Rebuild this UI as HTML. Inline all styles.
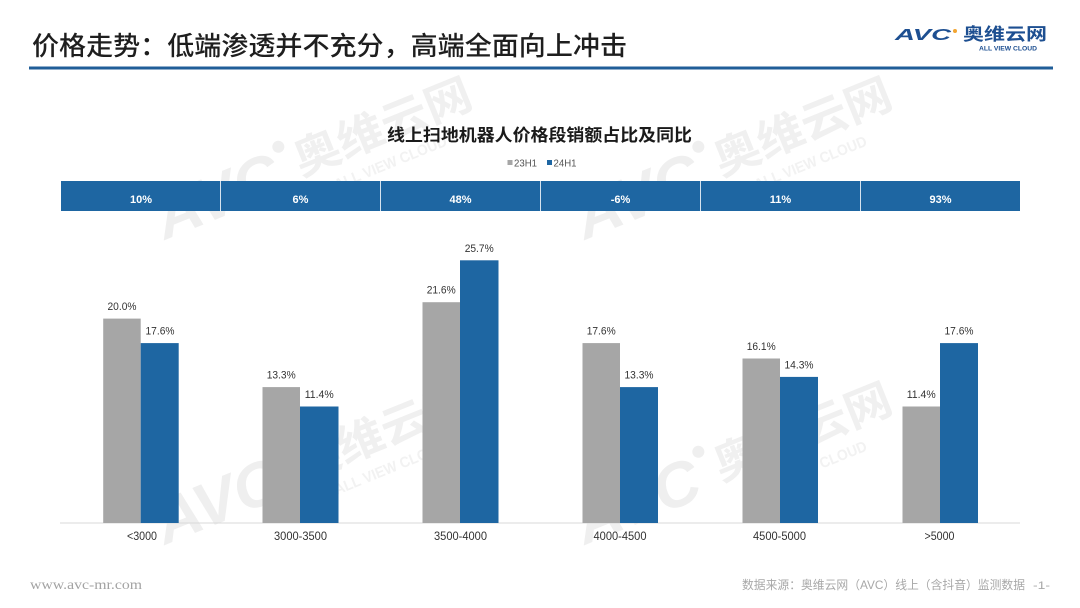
<!DOCTYPE html>
<html>
<head>
<meta charset="utf-8">
<style>
  html,body{margin:0;padding:0;background:#fff;}
  body{width:1080px;height:608px;overflow:hidden;}
  svg{display:block;}
  .cjk{font-family:"Liberation Sans","Noto Sans CJK SC",sans-serif;}
  .lat{font-family:"Liberation Sans","Noto Sans CJK SC",sans-serif;}
</style>
</head>
<body>
<svg width="1080" height="608" viewBox="0 0 1080 608" xmlns="http://www.w3.org/2000/svg">
  <defs>
    <g id="wm">
      <text x="0" y="0" class="lat" font-size="62" font-weight="bold" font-style="italic" fill="#efefef" textLength="130" lengthAdjust="spacingAndGlyphs">AVC</text>
      <circle cx="140" cy="-44" r="6" fill="#efefef"/>
      <text x="150" y="-8" class="cjk" font-size="44" font-weight="bold" fill="#f0f0f0" textLength="188" lengthAdjust="spacingAndGlyphs">奥维云网</text>
      <text x="178" y="18" class="lat" font-size="15" font-weight="bold" fill="#f2f2f2" textLength="120" lengthAdjust="spacingAndGlyphs">ALL VIEW CLOUD</text>
    </g>
  </defs>

  <rect x="0" y="0" width="1080" height="608" fill="#ffffff"/>

  <!-- watermarks -->
  <use href="#wm" transform="translate(165,240) rotate(-22)"/>
  <use href="#wm" transform="translate(585,240) rotate(-22)"/>
  <use href="#wm" transform="translate(165,545) rotate(-22)"/>
  <use href="#wm" transform="translate(585,545) rotate(-22)"/>

  <!-- page title -->
  <text x="32" y="55" class="cjk" font-size="26" font-weight="500" fill="#1e1e1e" textLength="595" lengthAdjust="spacingAndGlyphs">价格走势：低端渗透并不充分，高端全面向上冲击</text>
  <rect x="29" y="66.5" width="1024" height="3" fill="#205e98"/>

  <!-- logo -->
  <text x="895" y="40" class="lat" font-size="16" font-weight="bold" font-style="italic" fill="#1d4f91" textLength="56" lengthAdjust="spacingAndGlyphs">AVC</text>
  <circle cx="955" cy="31" r="2" fill="#f2a531"/>
  <text x="963" y="40" class="cjk" font-size="17" font-weight="bold" fill="#1d4f91" textLength="84" lengthAdjust="spacingAndGlyphs">奥维云网</text>
  <text x="979" y="50.5" class="lat" font-size="6.5" font-weight="bold" fill="#1d4f91" textLength="58" lengthAdjust="spacingAndGlyphs">ALL VIEW CLOUD</text>

  <!-- chart title -->
  <text x="387" y="141" class="cjk" font-size="17" font-weight="bold" fill="#1a1a1a" textLength="305" lengthAdjust="spacingAndGlyphs">线上扫地机器人价格段销额占比及同比</text>

  <!-- legend -->
  <rect x="507.5" y="160" width="5" height="5" fill="#a6a6a6"/>
  <text x="514" y="166.3" class="lat" font-size="10" fill="#555" textLength="23" lengthAdjust="spacingAndGlyphs">23H1</text>
  <rect x="547" y="160" width="5" height="5" fill="#1e66a2"/>
  <text x="553.5" y="166.3" class="lat" font-size="10" fill="#555" textLength="23" lengthAdjust="spacingAndGlyphs">24H1</text>

  <!-- YoY band -->
  <rect x="61" y="181" width="959" height="30" fill="#1e66a2"/>
  <g stroke="#d6e3ef" stroke-width="1">
    <line x1="220.5" y1="181" x2="220.5" y2="211"/>
    <line x1="380.5" y1="181" x2="380.5" y2="211"/>
    <line x1="540.5" y1="181" x2="540.5" y2="211"/>
    <line x1="700.5" y1="181" x2="700.5" y2="211"/>
    <line x1="860.5" y1="181" x2="860.5" y2="211"/>
  </g>
  <g class="lat" font-size="11" font-weight="bold" fill="#ffffff" text-anchor="middle">
    <text x="141" y="203">10%</text>
    <text x="300.5" y="203">6%</text>
    <text x="460.5" y="203">48%</text>
    <text x="620.5" y="203">-6%</text>
    <text x="780.5" y="203">11%</text>
    <text x="940.5" y="203">93%</text>
  </g>

  <!-- axis line -->
  <line x1="60" y1="523" x2="1020" y2="523" stroke="#d9d9d9" stroke-width="1"/>

  <!-- bars: grey 23H1 -->
  <g fill="#a6a6a6">
    <rect x="103.2" y="318.6" width="37.5" height="204.4"/>
    <rect x="262.5" y="387.1" width="37.5" height="135.9"/>
    <rect x="422.5" y="302.2" width="37.5" height="220.8"/>
    <rect x="582.5" y="343.1" width="37.5" height="179.9"/>
    <rect x="742.5" y="358.5" width="37.5" height="164.5"/>
    <rect x="902.5" y="406.5" width="37.5" height="116.5"/>
  </g>
  <!-- bars: blue 24H1 -->
  <g fill="#1e66a2">
    <rect x="140.7" y="343.1" width="38" height="179.9"/>
    <rect x="300" y="406.5" width="38.5" height="116.5"/>
    <rect x="460" y="260.3" width="38.5" height="262.7"/>
    <rect x="620" y="387.1" width="38" height="135.9"/>
    <rect x="780" y="376.9" width="38" height="146.1"/>
    <rect x="940" y="343.1" width="38" height="179.9"/>
  </g>

  <!-- value labels -->
  <g class="lat" font-size="11" fill="#333" text-anchor="middle">
    <text x="122" y="310" textLength="29" lengthAdjust="spacingAndGlyphs">20.0%</text>
    <text x="160" y="334.5" textLength="29" lengthAdjust="spacingAndGlyphs">17.6%</text>
    <text x="281.2" y="378.5" textLength="29" lengthAdjust="spacingAndGlyphs">13.3%</text>
    <text x="319.2" y="398" textLength="29" lengthAdjust="spacingAndGlyphs">11.4%</text>
    <text x="441.2" y="293.7" textLength="29" lengthAdjust="spacingAndGlyphs">21.6%</text>
    <text x="479.2" y="251.8" textLength="29" lengthAdjust="spacingAndGlyphs">25.7%</text>
    <text x="601.2" y="334.5" textLength="29" lengthAdjust="spacingAndGlyphs">17.6%</text>
    <text x="639" y="378.5" textLength="29" lengthAdjust="spacingAndGlyphs">13.3%</text>
    <text x="761.2" y="350" textLength="29" lengthAdjust="spacingAndGlyphs">16.1%</text>
    <text x="799" y="368.4" textLength="29" lengthAdjust="spacingAndGlyphs">14.3%</text>
    <text x="921.2" y="398" textLength="29" lengthAdjust="spacingAndGlyphs">11.4%</text>
    <text x="959" y="334.5" textLength="29" lengthAdjust="spacingAndGlyphs">17.6%</text>
  </g>

  <!-- category labels -->
  <g class="lat" font-size="12" fill="#333" text-anchor="middle">
    <text x="142" y="540" textLength="30" lengthAdjust="spacingAndGlyphs">&lt;3000</text>
    <text x="300.5" y="540" textLength="53" lengthAdjust="spacingAndGlyphs">3000-3500</text>
    <text x="460.5" y="540" textLength="53" lengthAdjust="spacingAndGlyphs">3500-4000</text>
    <text x="620" y="540" textLength="53" lengthAdjust="spacingAndGlyphs">4000-4500</text>
    <text x="779.5" y="540" textLength="53" lengthAdjust="spacingAndGlyphs">4500-5000</text>
    <text x="939.5" y="540" textLength="30" lengthAdjust="spacingAndGlyphs">&gt;5000</text>
  </g>

  <!-- footer -->
  <text x="30" y="589" font-family="'Liberation Serif',serif" font-size="14" fill="#a3a3a3" textLength="112" lengthAdjust="spacingAndGlyphs">www.avc-mr.com</text>
  <text x="742" y="589" class="cjk" font-size="12" fill="#a8a8a8" textLength="283" lengthAdjust="spacingAndGlyphs">数据来源：奥维云网（AVC）线上（含抖音）监测数据</text>
  <text x="1033" y="589" class="lat" font-size="11" fill="#a8a8a8" textLength="17" lengthAdjust="spacingAndGlyphs">-1-</text>
</svg>
</body>
</html>
